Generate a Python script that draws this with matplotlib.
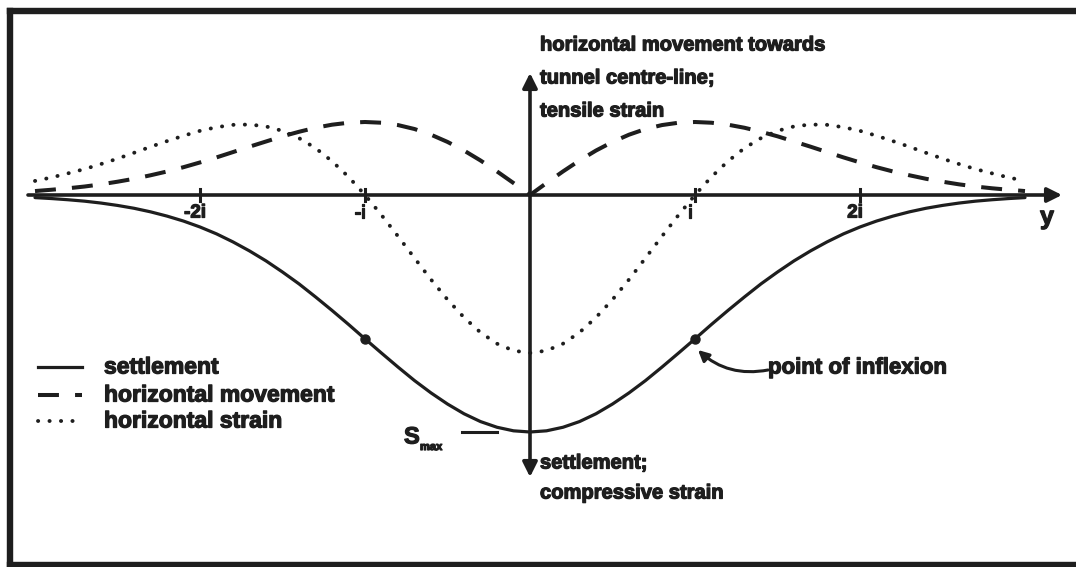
# Surface settlement trough above a tunnel: settlement, horizontal movement, horizontal strain
import matplotlib.pyplot as plt
import matplotlib.patheffects as pe
from matplotlib.lines import Line2D

# offset from tunnel centre-line, in units of i (trough width parameter)
offset_i = [-3.0, -2.9, -2.8, -2.7, -2.6, -2.5, -2.4, -2.3, -2.2, -2.1,
            -2.0, -1.9, -1.8, -1.7, -1.6, -1.5, -1.4, -1.3, -1.2, -1.1,
            -1.0, -0.9, -0.8, -0.7, -0.6, -0.5, -0.4, -0.3, -0.2, -0.1,
            0.0,
            0.1, 0.2, 0.3, 0.4, 0.5, 0.6, 0.7, 0.8, 0.9, 1.0,
            1.1, 1.2, 1.3, 1.4, 1.5, 1.6, 1.7, 1.8, 1.9, 2.0,
            2.1, 2.2, 2.3, 2.4, 2.5, 2.6, 2.7, 2.8, 2.9, 3.0]

# settlement S / Smax
settlement = [0.011, 0.015, 0.020, 0.026, 0.034, 0.044, 0.056, 0.071, 0.089, 0.110,
              0.135, 0.164, 0.198, 0.236, 0.278, 0.325, 0.375, 0.430, 0.487, 0.546,
              0.607, 0.667, 0.726, 0.783, 0.835, 0.882, 0.923, 0.956, 0.980, 0.995,
              1.000,
              0.995, 0.980, 0.956, 0.923, 0.882, 0.835, 0.783, 0.726, 0.667, 0.607,
              0.546, 0.487, 0.430, 0.375, 0.325, 0.278, 0.236, 0.198, 0.164, 0.135,
              0.110, 0.089, 0.071, 0.056, 0.044, 0.034, 0.026, 0.020, 0.015, 0.011]

# horizontal movement towards the centre-line, relative to its peak
movement = [0.054, 0.072, 0.092, 0.116, 0.146, 0.182, 0.222, 0.270, 0.322, 0.381,
            0.446, 0.515, 0.588, 0.662, 0.733, 0.804, 0.866, 0.921, 0.963, 0.990,
            1.000, 0.990, 0.958, 0.904, 0.826, 0.727, 0.609, 0.473, 0.323, 0.164,
            0.000,
            0.164, 0.323, 0.473, 0.609, 0.727, 0.826, 0.904, 0.958, 0.990, 1.000,
            0.990, 0.963, 0.921, 0.866, 0.804, 0.733, 0.662, 0.588, 0.515, 0.446,
            0.381, 0.322, 0.270, 0.222, 0.182, 0.146, 0.116, 0.092, 0.072, 0.054]

# horizontal strain (tensile +, compressive -), relative to the strain over the centre-line
strain = [0.089, 0.111, 0.137, 0.164, 0.196, 0.230, 0.267, 0.305, 0.341, 0.375,
          0.406, 0.429, 0.444, 0.446, 0.434, 0.406, 0.360, 0.297, 0.214, 0.115,
          0.000, -0.127, -0.261, -0.399, -0.535, -0.662, -0.775, -0.870, -0.941, -0.985,
          -1.000,
          -0.985, -0.941, -0.870, -0.775, -0.662, -0.535, -0.399, -0.261, -0.127, 0.000,
          0.115, 0.214, 0.297, 0.360, 0.406, 0.434, 0.446, 0.444, 0.429, 0.406,
          0.375, 0.341, 0.305, 0.267, 0.230, 0.196, 0.164, 0.137, 0.111, 0.089]

tick_pos = [-2, -1, 1, 2]
tick_labels = ['-2i', '-i', 'i', '2i']
inflexion_pos = [-1.0, 1.0]
inflexion_val = [0.607, 0.607]

W, H = 1076, 567
X0, Y0, I_PX = 530, 195, 165      # origin and size of i on the sheet, pixels
S_AMP, M_AMP, E_AMP = 237, 73, 158  # drawn heights of the three curves

INK = '#1e1e1e'
plt.rcParams['font.family'] = ['Liberation Sans', 'DejaVu Sans']
plt.rcParams['font.weight'] = 'bold'
heavy = [pe.withStroke(linewidth=0.9, foreground=INK)]


def at(px, py):
    # sheet pixels -> data coordinates
    return (px - X0) / I_PX, Y0 - py


def label(px, py, txt, size, **kw):
    ax.text(*at(px, py), txt, va='center', fontsize=size, color=INK,
            path_effects=heavy, **kw)


fig = plt.figure(figsize=(W / 100, H / 100), dpi=100)
ax = fig.add_axes([0, 0, 1, 1])
ax.set_xlim(-X0 / I_PX, (W - X0) / I_PX)
ax.set_ylim(Y0 - H, Y0)
ax.axis('off')

dash_style = (0, (5.2, 4.0))
dot_style = (0, (0.05, 2.9))

ax.plot(offset_i, [-S_AMP * s for s in settlement], color=INK, lw=2.3,
        solid_capstyle='round', solid_joinstyle='round')
ax.plot(offset_i, [M_AMP * m for m in movement], color=INK, lw=2.9,
        linestyle=dash_style)
ax.plot(offset_i, [E_AMP * e for e in strain], color=INK, lw=2.8,
        linestyle=dot_style, dash_capstyle='round')

# axes with arrow heads
arrow = dict(arrowstyle='-|>', color=INK, lw=2.6, mutation_scale=22,
             shrinkA=0, shrinkB=0)
ax.annotate('', xy=at(1062, Y0), xytext=at(28, Y0), arrowprops=arrow)
ax.annotate('', xy=at(X0, 73), xytext=at(X0, Y0), arrowprops=arrow)
ax.annotate('', xy=at(X0, 477), xytext=at(X0, Y0), arrowprops=arrow)

for t, lab in zip(tick_pos, tick_labels):
    ax.plot([t, t], [6, -6], color=INK, lw=2.2)
    ax.text(t - 0.03, -18, lab, ha='center', va='center', fontsize=13.5,
            color=INK, path_effects=heavy)
label(1047, 217, 'y', 18, ha='center')

# points of inflexion
ax.plot(inflexion_pos, [-S_AMP * v for v in inflexion_val], 'o',
        color=INK, ms=6.5)
ax.annotate('', xy=at(698, 350), xytext=at(768, 370),
            arrowprops=dict(arrowstyle='-|>', color=INK, lw=2.2,
                            mutation_scale=16, shrinkA=0, shrinkB=0,
                            connectionstyle='arc3,rad=-0.25'))
label(768, 368, 'point of inflexion', 16, ha='left')

# S_max marker
ax.plot([at(462, 0)[0], at(497, 0)[0]], [Y0 - 432] * 2, color=INK, lw=2.2)
label(404, 437, 'S', 17, ha='left')
label(420, 447, 'max', 8, ha='left')

# axis captions
label(540, 45, 'horizontal movement towards', 14.5, ha='left')
label(540, 78, 'tunnel centre-line;', 14.5, ha='left')
label(540, 111, 'tensile strain', 14.5, ha='left')
label(540, 463, 'settlement;', 14.5, ha='left')
label(540, 493, 'compressive strain', 14.5, ha='left')

# key
ax.plot([at(38, 0)[0], at(82, 0)[0]], [Y0 - 367] * 2, color=INK, lw=2.3)
ax.plot([at(38, 0)[0], at(82, 0)[0]], [Y0 - 395] * 2, color=INK, lw=2.9,
        linestyle=dash_style)
ax.plot([at(38, 0)[0], at(76, 0)[0]], [Y0 - 421] * 2, color=INK, lw=2.8,
        linestyle=dot_style, dash_capstyle='round')
label(104, 367, 'settlement', 16.5, ha='left')
label(104, 395, 'horizontal movement', 16.5, ha='left')
label(104, 421, 'horizontal strain', 16.5, ha='left')

# border of the sheet (left, top, bottom)
for xs, ys in [([9.5, 9.5], [11, 565]), ([9.5, W], [11, 11]),
               ([9.5, W], [565, 565])]:
    fig.add_artist(Line2D([x / W for x in xs], [1 - y / H for y in ys],
                          color=INK, lw=4.6, solid_capstyle='projecting'))

fig.savefig('out.png', dpi=100)
